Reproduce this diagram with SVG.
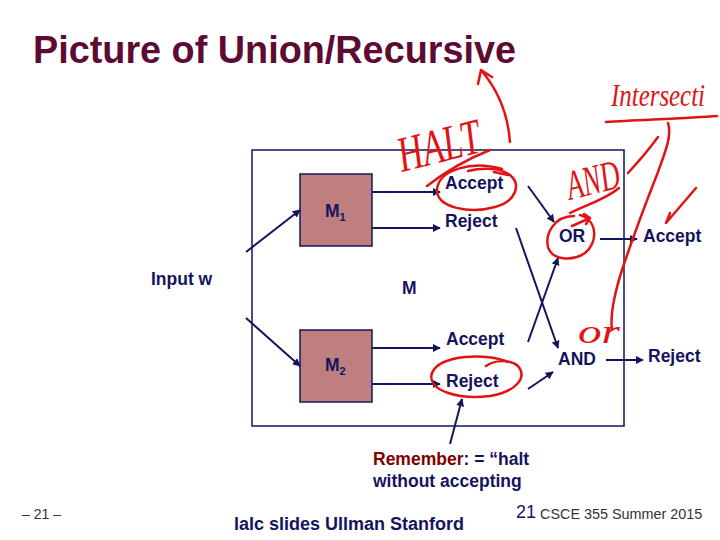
<svg xmlns="http://www.w3.org/2000/svg" width="720" height="540" viewBox="0 0 720 540">
<defs>
<marker id="ah" viewBox="0 0 10 10" refX="9" refY="5" markerWidth="8" markerHeight="8" markerUnits="userSpaceOnUse" orient="auto">
<path d="M0,0 L10,5 L0,10 z" fill="#14145E"/>
</marker>
</defs>
<style>
.lbl{font-family:"Liberation Sans",Arial,sans-serif;font-weight:bold;fill:#14145E;font-size:17.5px}
.box{fill:#BF7F7F;stroke:#14145E;stroke-width:1.5}
.edge{stroke:#14145E;stroke-width:2;fill:none;marker-end:url(#ah)}
.ink{stroke:#E01414;stroke-width:2.5;fill:none;stroke-linecap:round;stroke-linejoin:round}
.hand{font-family:"Liberation Serif",serif;font-style:italic;fill:#E01414}
</style>
<rect width="720" height="540" fill="#FFFFFF"/>
<text x="33" y="63" font-family="Liberation Sans,Arial,sans-serif" font-weight="bold" font-size="38" fill="#5E0B33" textLength="483" lengthAdjust="spacingAndGlyphs">Picture of Union/Recursive</text>

<g id="M">
<rect x="252" y="150" width="372" height="276" fill="none" stroke="#14145E" stroke-width="1.5"/>
<text class="lbl" x="402" y="294" font-size="16">M</text>
</g>
<g id="input"><text class="lbl" x="151" y="285">Input w</text></g>
<g id="M1">
<rect class="box" x="300" y="174" width="72" height="72"/>
<text class="lbl" x="325" y="217" font-size="16">M<tspan font-size="11" dy="4">1</tspan></text>
</g>
<g id="M2">
<rect class="box" x="300" y="330" width="72" height="72"/>
<text class="lbl" x="325" y="371" font-size="16">M<tspan font-size="11" dy="4">2</tspan></text>
</g>
<g id="acc1"><text class="lbl" x="445" y="189">Accept</text></g>
<g id="rej1"><text class="lbl" x="445" y="227">Reject</text></g>
<g id="acc2"><text class="lbl" x="446" y="345">Accept</text></g>
<g id="rej2"><text class="lbl" x="446" y="387">Reject</text></g>
<g id="or"><text class="lbl" x="559" y="242">OR</text></g>
<g id="and"><text class="lbl" x="558" y="365">AND</text></g>
<g id="accOut"><text class="lbl" x="643" y="242">Accept</text></g>
<g id="rejOut"><text class="lbl" x="648" y="362">Reject</text></g>

<g id="connectors">
<line class="edge" x1="246" y1="252" x2="300" y2="210"/>
<line class="edge" x1="246" y1="318" x2="300" y2="366"/>
<line class="edge" x1="372" y1="192" x2="440" y2="192"/>
<line class="edge" x1="372" y1="228" x2="440" y2="228"/>
<line class="edge" x1="372" y1="348" x2="440" y2="348"/>
<line class="edge" x1="372" y1="384" x2="440" y2="384"/>
<line class="edge" x1="528" y1="186" x2="554" y2="222"/>
<line class="edge" x1="516" y1="228" x2="558" y2="348"/>
<line class="edge" x1="528" y1="342" x2="558" y2="258"/>
<line class="edge" x1="528" y1="389" x2="553" y2="372"/>
<line class="edge" x1="600" y1="239" x2="637" y2="239"/>
<line class="edge" x1="606" y1="360" x2="643" y2="360"/>
<line class="edge" x1="450" y1="444" x2="462" y2="399"/>
</g>

<g id="note">
<text class="lbl" x="373" y="465" font-size="17"><tspan fill="#800000">Remember</tspan>: = “halt</text>
<text class="lbl" x="373" y="487" font-size="17">without accepting</text>
</g>

<g id="footer">
<text x="22" y="519" font-family="Liberation Sans,Arial,sans-serif" font-size="14" fill="#333333">– 21 –</text>
<text x="234" y="530" font-family="Liberation Sans,Arial,sans-serif" font-weight="bold" font-size="18" fill="#14145E" textLength="230" lengthAdjust="spacingAndGlyphs">lalc slides Ullman Stanford</text>
<text x="516" y="518" font-family="Liberation Sans,Arial,sans-serif" font-size="18" fill="#14145E">21</text>
<text x="540" y="519" font-family="Liberation Sans,Arial,sans-serif" font-size="14.4" fill="#333333">CSCE 355 Summer 2015</text>
</g>

<g id="annotations">
<path class="ink" d="M510 142 C508 115 498 90 481 70 M481 70 L478 84 M481 70 L492 77"/>
<text class="hand" x="0" y="0" font-size="50" transform="translate(402 172) rotate(-14)" textLength="84" lengthAdjust="spacingAndGlyphs">HALT</text>
<path class="ink" d="M427 186 C445 172 465 160 490 150"/>
<path class="ink" d="M502 169 C472 160 438 170 437 190 C437 208 470 214 495 207 C515 202 522 185 510 175 C500 167 480 168 468 171 M494 172 L508 175"/>
<text class="hand" x="0" y="0" font-size="42" transform="translate(570 200) rotate(-14)" textLength="54" lengthAdjust="spacingAndGlyphs">AND</text>
<path class="ink" d="M619 188 C605 200 585 205 570 213"/>
<path class="ink" d="M574 216 C554 216 545 234 548 247 C552 260 572 262 585 253 C598 243 598 220 580 215 M572 226 L590 218 M584 214 L590 218 L586 224"/>
<text class="hand" x="611" y="106" font-size="32" textLength="94" lengthAdjust="spacingAndGlyphs">Intersecti</text>
<path class="ink" d="M606 122 C640 120 690 118 717 116"/>
<path class="ink" d="M668 123 C672 135 666 150 658 172 C645 205 632 240 622 270 C614 295 610 315 612 330"/>
<path class="ink" d="M628 173 C640 160 650 148 658 137"/>
<path class="ink" d="M670 213 L666 223 L696 188"/>
<text class="hand" x="578" y="343" font-size="34" textLength="42" lengthAdjust="spacingAndGlyphs">or</text>
<path class="ink" d="M508 362 C488 353 440 354 432 373 C426 391 460 400 490 396 C515 392 528 378 518 366 C510 359 494 360 486 366"/>
</g>
</svg>
